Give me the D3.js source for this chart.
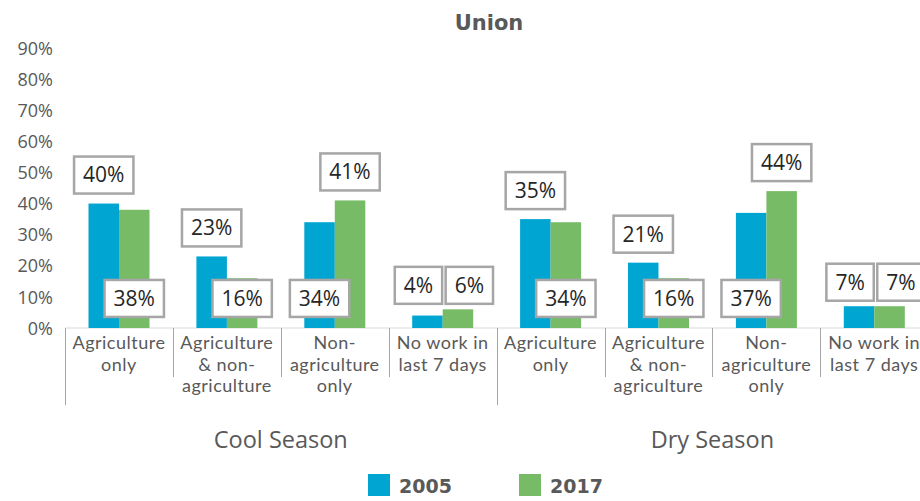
<!DOCTYPE html>
<html>
<head>
<meta charset="utf-8">
<script src="https://cdn.jsdelivr.net/npm/d3@7"></script>
<style>
  html, body { margin: 0; padding: 0; background: #fff; }
  svg { display: block; }
</style>
</head>
<body>
<svg id="chart" width="920" height="501"></svg>
<script>
// Share of workers by type of work, Union, by season and survey year
const title = "Union";
const seasons = ["Cool Season", "Dry Season"];
const workTypes = [
  ["Agriculture", "only"],
  ["Agriculture", "& non-", "agriculture"],
  ["Non-", "agriculture", "only"],
  ["No work in", "last 7 days"]
];
const years = ["2005", "2017"];
// values in percent, cool season categories first, then dry season
const values2005 = [40, 23, 34, 4, 35, 21, 37, 7];
const values2017 = [38, 16, 41, 6, 34, 16, 44, 7];
const yTicks = [0, 10, 20, 30, 40, 50, 60, 70, 80, 90];

const colors = { "2005": "#00A5D2", "2017": "#77BB66" };
const textGray = "#595959";
const labelFont = "'Open Sans', sans-serif";
const catFont = "Lato, sans-serif";

const svg = d3.select("#chart");
const W = 920, H = 501;

// one entry per bar group: season x work type
const groups = [];
seasons.forEach((s, si) => {
  workTypes.forEach((w, wi) => {
    const i = si * workTypes.length + wi;
    groups.push({ key: i, season: s, lines: w, noWork: wi === 3,
      values: [ { year: "2005", v: values2005[i] }, { year: "2017", v: values2017[i] } ] });
  });
});

const bandW = 107.9;
const x0 = d3.scaleBand().domain(groups.map(d => d.key))
  .range([65, 65 + bandW * groups.length]).paddingInner(0).paddingOuter(0);
const x1 = d3.scaleBand().domain(years).range([23.5, 84.5]).padding(0);
const y = d3.scaleLinear().domain([0, 90]).range([328, 48]);

// title
svg.append("text").attr("x", 489).attr("y", 30).attr("text-anchor", "middle")
  .attr("font-family", "'DejaVu Sans', sans-serif").attr("font-weight", "bold")
  .attr("font-size", 21).attr("fill", textGray).text(title);

// y axis labels (no axis line)
const yAxis = d3.axisLeft(y).tickValues(yTicks).tickFormat(d => d + "%").tickSize(0).tickPadding(0);
const gy = svg.append("g").attr("transform", "translate(53,0)").call(yAxis);
gy.select(".domain").remove();
gy.selectAll("text").attr("font-family", labelFont).attr("font-size", 18)
  .attr("fill", textGray).attr("dy", "0.34em");

// baseline
svg.append("line").attr("x1", 65).attr("x2", W).attr("y1", y(0)).attr("y2", y(0))
  .attr("stroke", "#D9D9D9").attr("stroke-width", 1);

// category separators: long at season boundaries, short elsewhere
const bounds = d3.range(groups.length + 1).map(i => 65 + i * bandW);
svg.append("g").selectAll("line").data(bounds).join("line")
  .attr("x1", d => Math.round(d) + 0.5).attr("x2", d => Math.round(d) + 0.5)
  .attr("y1", y(0)).attr("y2", (d, i) => i % workTypes.length === 0 ? 405 : 377)
  .attr("stroke", "#A6A6A6").attr("stroke-width", 1);

// bars
const g = svg.append("g").selectAll("g").data(groups).join("g")
  .attr("transform", d => `translate(${x0(d.key)},0)`);
g.selectAll("rect").data(d => d.values).join("rect")
  .attr("x", d => x1(d.year)).attr("width", x1.bandwidth())
  .attr("y", d => y(d.v)).attr("height", d => y(0) - y(d.v))
  .attr("fill", d => colors[d.year]);

// category labels
g.append("text").attr("text-anchor", "middle")
  .attr("font-family", catFont).attr("font-size", 18).attr("letter-spacing", 0.5)
  .attr("fill", textGray)
  .selectAll("tspan").data(d => d.lines).join("tspan")
  .attr("x", x0.bandwidth() / 2).attr("y", (d, i) => 349 + i * 21.7).text(d => d);

// season labels
seasons.forEach((s, si) => {
  const cx = 65 + bandW * workTypes.length * (si + 0.5);
  svg.append("text").attr("x", cx).attr("y", 448).attr("text-anchor", "middle")
    .attr("font-family", labelFont).attr("font-size", 23.5).attr("fill", textGray).text(s);
});

// boxed value labels
const boxH = 37, padX = 9;
function boxLabel(parent, text, cx, cy, anchor) {
  const lg = parent.append("g");
  const rect = lg.append("rect").attr("fill", "#fff").attr("stroke", "#A6A6A6").attr("stroke-width", 2.5);
  const t = lg.append("text").attr("font-family", labelFont).attr("font-size", 21)
    .attr("fill", "#262626").attr("text-anchor", "middle").attr("x", 0).attr("y", 0)
    .attr("dy", "0.35em").text(text);
  const w = t.node().getComputedTextLength() + padX * 2;
  let left = cx - w / 2;
  if (anchor === "end") left = cx - w;
  if (anchor === "start") left = cx;
  rect.attr("x", left).attr("y", cy - boxH / 2).attr("width", w).attr("height", boxH);
  t.attr("x", left + w / 2).attr("y", cy);
}

const labelLayer = svg.append("g");
groups.forEach(d => {
  const left = x0(d.key);
  const [a, b] = d.values;
  if (d.noWork) {
    const cy = y(Math.max(a.v, b.v)) - 24;
    const mid = left + x0.bandwidth() / 2;
    boxLabel(labelLayer, a.v + "%", mid - 0.5, cy, "end");
    boxLabel(labelLayer, b.v + "%", mid + 3, cy, "start");
  } else {
    const hi = a.v >= b.v ? a : b;
    const lo = a.v >= b.v ? b : a;
    boxLabel(labelLayer, hi.v + "%", left + x1(hi.year) + x1.bandwidth() / 2, y(hi.v) - 10 - boxH / 2);
    boxLabel(labelLayer, lo.v + "%", left + x1(lo.year) + x1.bandwidth() / 2, y(9.5));
  }
});

// legend
const legend = svg.append("g");
[{ year: "2005", x: 368 }, { year: "2017", x: 519 }].forEach(d => {
  legend.append("rect").attr("x", d.x).attr("y", 474).attr("width", 22).attr("height", 22)
    .attr("fill", colors[d.year]);
  legend.append("text").attr("x", d.x + 31).attr("y", 493)
    .attr("font-family", "'DejaVu Sans', sans-serif").attr("font-weight", "bold")
    .attr("font-size", 19).attr("fill", textGray).text(d.year);
});
</script>
</body>
</html>
